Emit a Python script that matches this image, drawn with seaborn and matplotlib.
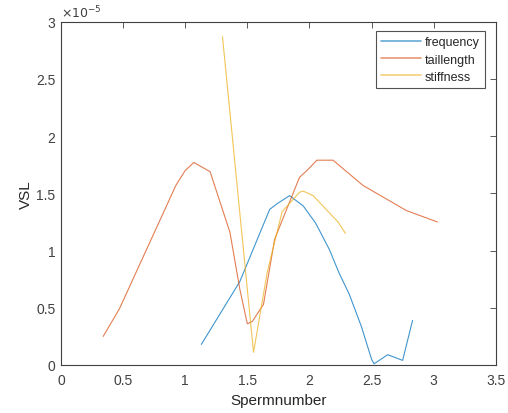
import numpy as np
import pandas as pd
import matplotlib
matplotlib.use("Agg")
import matplotlib.pyplot as plt
import seaborn as sns

# Data (VSL in units of 1e-5)
freq_x = [1.13, 1.44, 1.68, 1.74, 1.84, 1.95, 2.05, 2.16, 2.24, 2.32, 2.42, 2.50, 2.52, 2.63, 2.75, 2.83]
freq_y = [0.18, 0.73, 1.36, 1.41, 1.48, 1.39, 1.24, 1.01, 0.80, 0.62, 0.33, 0.05, 0.01, 0.09, 0.04, 0.39]

tail_x = [0.34, 0.47, 0.925, 1.00, 1.07, 1.20, 1.36, 1.44, 1.50, 1.54, 1.63, 1.72, 1.92, 1.98, 2.06, 2.19, 2.43, 2.78, 3.03]
tail_y = [0.25, 0.49, 1.57, 1.70, 1.77, 1.69, 1.16, 0.66, 0.36, 0.38, 0.53, 1.10, 1.64, 1.70, 1.79, 1.79, 1.57, 1.35, 1.25]

stiff_x = [1.30, 1.55, 1.66, 1.78, 1.92, 1.95, 2.03, 2.23, 2.29]
stiff_y = [2.87, 0.11, 0.81, 1.34, 1.51, 1.52, 1.48, 1.25, 1.15]

series_names = ["frequency", "taillength", "stiffness"]
colors = ["#0072BD", "#D95319", "#EDB120"]

frames = []
for name, xs, ys in zip(series_names, [freq_x, tail_x, stiff_x], [freq_y, tail_y, stiff_y]):
    frames.append(pd.DataFrame({"Spermnumber": xs, "VSL": np.array(ys) * 1e-5, "series": name}))
df = pd.concat(frames, ignore_index=True)

sns.set_style("white")
plt.rcParams["font.family"] = ["Liberation Sans", "DejaVu Sans"]

fig = plt.figure(figsize=(5.08, 4.14), dpi=100)
ax = fig.add_axes([0.120, 0.116, 0.856, 0.829])

sns.lineplot(data=df, x="Spermnumber", y="VSL", hue="series", hue_order=series_names,
             palette=colors, estimator=None, sort=False, linewidth=0.8, alpha=0.75, ax=ax)

ax.set_xlim(0, 3.5)
ax.set_ylim(0, 3e-5)
ax.set_xticks(np.arange(0, 3.51, 0.5))
ax.set_xticklabels(["0", "0.5", "1", "1.5", "2", "2.5", "3", "3.5"])
ax.set_yticks(np.arange(0, 3.01e-5, 0.5e-5))
ax.set_yticklabels(["0", "0.5", "1", "1.5", "2", "2.5", "3"])
ax.tick_params(direction="in", length=4, width=0.6, top=True, right=True,
               labelsize=10, colors="#404040")
ax.tick_params(axis="x", pad=6)
ax.tick_params(axis="y", pad=4)
for s in ax.spines.values():
    s.set_visible(True)
    s.set_color("#404040")
    s.set_linewidth(0.8)

ax.set_xlabel("Spermnumber", fontsize=11, color="#262626", labelpad=4)
ax.set_ylabel("VSL", fontsize=11, color="#262626", labelpad=2)
ax.text(0.0, 1.005, r"$\times10^{-5}$", transform=ax.transAxes, fontsize=9,
        color="#404040", ha="left", va="bottom")

leg = ax.legend(loc="upper right", bbox_to_anchor=(0.975, 0.974), borderaxespad=0.0,
                fontsize=9, frameon=True, fancybox=False, edgecolor="#262626",
                handlelength=3.2, handletextpad=0.25, borderpad=0.45, labelspacing=0.42)
leg.get_frame().set_linewidth(0.8)
for h in leg.legend_handles:
    h.set_alpha(0.6)
    h.set_linewidth(1.2)

fig.savefig("out.png", dpi=100)
